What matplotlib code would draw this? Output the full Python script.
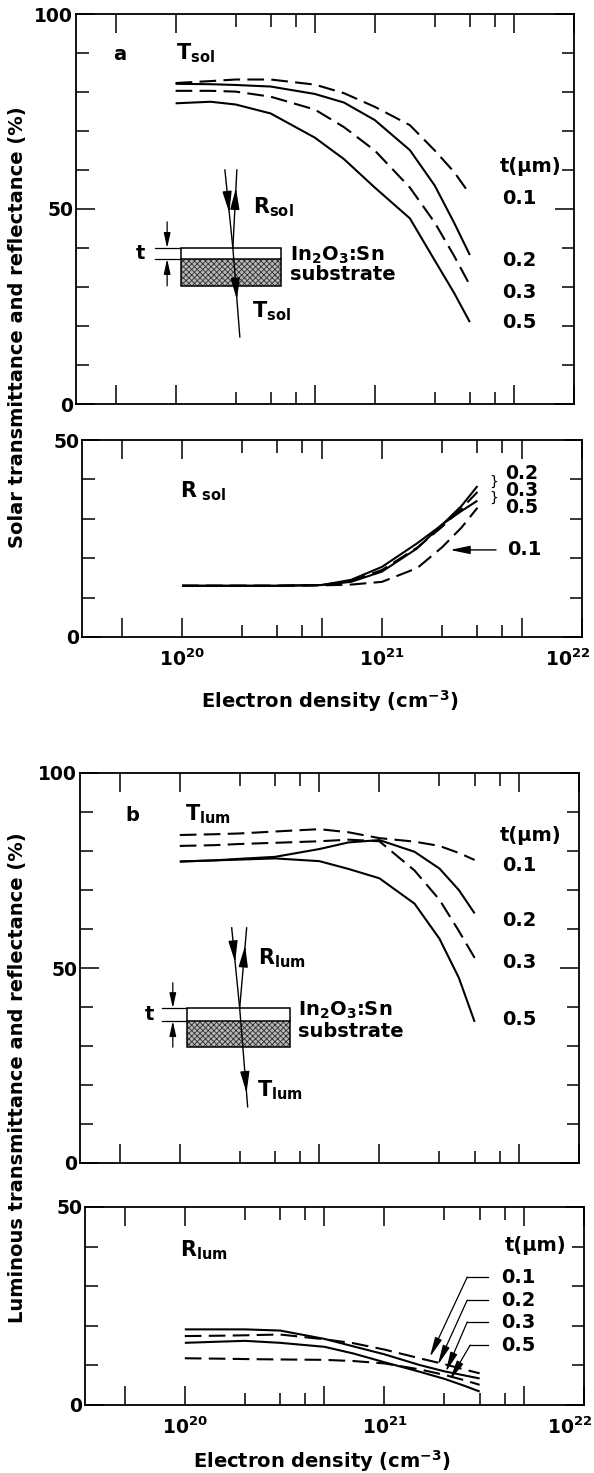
import numpy as np
import matplotlib
matplotlib.use("Agg")
import matplotlib.pyplot as plt
from matplotlib.patches import Rectangle
from matplotlib.ticker import FixedLocator, NullFormatter, FixedFormatter
from matplotlib.transforms import ScaledTranslation

plt.rcParams['font.family'] = ['DejaVu Sans']
plt.rcParams['font.weight'] = 'bold'
plt.rcParams['mathtext.fontset'] = 'dejavusans'
plt.rcParams['hatch.linewidth'] = 0.6

# ---------------- data (electron density in units of 1e20 cm^-3) ----------------
n_T = [1, 1.5, 2, 3, 5, 7, 10, 15, 20, 25, 30]
tsol_01 = [82.3, 82.8, 83.2, 83.2, 81.9, 79.7, 76.2, 71.5, 65.0, 59.5, 53.8]
tsol_02 = [82.1, 82.0, 81.8, 81.4, 79.5, 77.3, 72.8, 65.1, 56.0, 46.5, 38.2]
tsol_03 = [80.3, 80.3, 80.1, 78.8, 75.5, 71.0, 65.0, 55.5, 46.5, 38.0, 30.5]
tsol_05 = [77.1, 77.5, 76.8, 74.5, 68.3, 62.8, 55.5, 47.6, 36.8, 28.5, 21.0]

n_R = [1, 2, 3, 5, 7, 10, 15, 20, 25, 30]
rsol_01 = [13.0, 13.0, 13.0, 13.1, 13.3, 14.0, 17.5, 22.8, 27.8, 32.8]
rsol_02 = [13.0, 13.0, 13.0, 13.2, 14.5, 17.8, 23.8, 28.5, 33.3, 38.3]
rsol_03 = [13.0, 13.0, 13.0, 13.2, 14.2, 17.0, 22.7, 28.0, 32.6, 36.8]
rsol_05 = [13.0, 13.0, 13.0, 13.2, 14.0, 16.6, 22.5, 28.6, 32.0, 34.6]

tlum_01 = [84.1, 84.3, 84.5, 85.0, 85.6, 84.8, 83.3, 82.4, 81.3, 79.5, 77.7]
tlum_02 = [77.3, 77.6, 78.0, 78.5, 80.5, 82.2, 82.8, 79.8, 75.5, 70.0, 64.0]
tlum_03 = [81.3, 81.5, 81.8, 82.1, 82.5, 82.9, 82.5, 75.0, 67.5, 59.5, 52.6]
tlum_05 = [77.3, 77.6, 77.8, 78.1, 77.4, 75.4, 73.0, 66.5, 57.5, 47.5, 36.2]

rlum_01 = [11.8, 11.7, 11.6, 11.5, 11.4, 11.1, 10.5, 9.0, 7.6, 6.3, 5.1]
rlum_02 = [19.1, 19.1, 19.1, 18.8, 16.7, 14.8, 12.8, 10.1, 8.5, 7.5, 6.7]
rlum_03 = [17.4, 17.5, 17.6, 17.8, 16.6, 15.6, 14.0, 11.8, 10.3, 9.0, 8.0]
rlum_05 = [15.7, 16.0, 16.2, 15.7, 14.7, 13.0, 10.8, 8.4, 6.6, 4.9, 3.4]

thickness = ['0.1', '0.2', '0.3', '0.5']
x_major = [5e19, 1e20, 5e20, 1e21, 5e21, 1e22]
x_minor = [2e20, 3e20, 4e20, 2e21, 3e21, 4e21]
x_major_labels = ['', r'$\mathbf{10}^{20}$', '', r'$\mathbf{10}^{21}$', '', r'$\mathbf{10}^{22}$']

# ---------------- figure ----------------
W, H = 594, 1473
fig = plt.figure(figsize=(W / 100, H / 100), dpi=100)
fig.patch.set_facecolor('white')


def rect(l, r, t, b):
    return [l / W, 1 - b / H, (r - l) / W, (b - t) / H]


ax1 = fig.add_axes(rect(76, 574, 14, 404))
ax2 = fig.add_axes(rect(82, 582, 440, 637))
ax3 = fig.add_axes(rect(80, 579, 773, 1163))
ax4 = fig.add_axes(rect(85, 584, 1207, 1405))

DASH = (0, (8, 3.5))
LW = 1.5


def style(ax, ymax, show_x):
    ax.set_xscale('log')
    ax.set_xlim(10 ** 19.5, 1e22)
    ax.set_ylim(0, ymax)
    ax.xaxis.set_major_locator(FixedLocator(x_major))
    ax.xaxis.set_minor_locator(FixedLocator(x_minor))
    ax.xaxis.set_minor_formatter(NullFormatter())
    if show_x:
        ax.xaxis.set_major_formatter(FixedFormatter(x_major_labels))
    else:
        ax.xaxis.set_major_formatter(NullFormatter())
    ymaj = [0, 50, 100] if ymax == 100 else [0, 50]
    ymin = [v for v in range(10, ymax, 10) if v != 50]
    ax.yaxis.set_major_locator(FixedLocator(ymaj))
    ax.yaxis.set_minor_locator(FixedLocator(ymin))
    ax.yaxis.set_major_formatter(FixedFormatter([str(v) for v in ymaj]))
    ax.tick_params(which='both', direction='in', top=True, right=True, width=1.1)
    ax.tick_params(which='major', length=13.5)
    ax.tick_params(which='minor', length=9)
    ax.tick_params(axis='y', labelsize=13.5, pad=2)
    ax.tick_params(axis='x', labelsize=13.5, pad=8)
    for s in ax.spines.values():
        s.set_linewidth(1.3)


def curves(ax, n, series):
    x = np.array(n) * 1e20
    for vals, ls in zip(series, [DASH, '-', DASH, '-']):
        ax.plot(x, vals, color='k', lw=LW, ls=ls, solid_joinstyle='round',
                solid_capstyle='butt', dash_capstyle='butt')


style(ax1, 100, False)
style(ax2, 50, True)
style(ax3, 100, False)
style(ax4, 50, True)

curves(ax1, n_T, [tsol_01, tsol_02, tsol_03, tsol_05])
curves(ax2, n_R, [rsol_01, rsol_02, rsol_03, rsol_05])
curves(ax3, n_T, [tlum_01, tlum_02, tlum_03, tlum_05])
curves(ax4, n_T, [rlum_01, rlum_02, rlum_03, rlum_05])

# keep the 10^22 label inside the picture, as in the reference
fig.canvas.draw()
for ax in (ax2, ax4):
    labs = ax.get_xticklabels()
    last = labs[-1]
    last.set_horizontalalignment('right')
    last.set_transform(last.get_transform() + ScaledTranslation(8 / 100, 0, fig.dpi_scale_trans))

FS = 14
FB = 15
AF = 'axes fraction'


def arrow(ax, tip, tail, hl=0.9, hw=0.22, lw=1.0):
    ax.annotate('', xy=tip, xytext=tail, xycoords=AF, textcoords=AF,
                arrowprops=dict(arrowstyle='-|>,head_length=%g,head_width=%g' % (hl, hw),
                                color='k', lw=lw, shrinkA=0, shrinkB=0,
                                mutation_scale=10))


def head_on(ax, p0, p1, t):
    tip = (p0[0] + t * (p1[0] - p0[0]), p0[1] + t * (p1[1] - p0[1]))
    back = (p0[0] + (t - 0.06) * (p1[0] - p0[0]), p0[1] + (t - 0.06) * (p1[1] - p0[1]))
    arrow(ax, tip, back, hl=1.3, hw=0.28, lw=1.0)


def inset(ax, g, rlab, tlab):
    T = ax.transAxes
    ax.add_patch(Rectangle((g['x0'], g['yb']), g['x1'] - g['x0'], g['ym'] - g['yb'],
                           transform=T, facecolor='#b8b8b8', edgecolor='#2e2e2e',
                           hatch='xxxxxx', lw=0))
    ax.add_patch(Rectangle((g['x0'], g['yb']), g['x1'] - g['x0'], g['yt'] - g['yb'],
                           transform=T, facecolor='none', edgecolor='k', lw=1.1))
    ax.plot([g['x0'], g['x1']], [g['ym'], g['ym']], transform=T, color='k', lw=1.1)
    ax.plot([g['xl'], g['x0']], [g['yt'], g['yt']], transform=T, color='k', lw=0.9)
    ax.plot([g['xl'], g['x0']], [g['ym'], g['ym']], transform=T, color='k', lw=0.9)
    arrow(ax, (g['xa'], g['yt']), (g['xa'], g['ya']), hl=0.9, hw=0.2, lw=0.9)
    arrow(ax, (g['xa'], g['ym']), (g['xa'], g['yb']), hl=0.9, hw=0.2, lw=0.9)
    ax.text(g['xt'], (g['yt'] + g['ym']) / 2, 't', transform=T, fontsize=FS,
            ha='center', va='center')
    pin = (g['xi'], g['ytop'])
    hit = (g['xh'], g['yt'])
    pr = (g['xr'], g['ytop'])
    pt = (g['xtr'], g['ybot'])
    for a, b in [(pin, hit), (hit, pr), (hit, pt)]:
        ax.plot([a[0], b[0]], [a[1], b[1]], transform=T, color='k', lw=1.0)
    head_on(ax, pin, hit, g['ti'])
    head_on(ax, hit, pr, g['tr'])
    head_on(ax, hit, pt, g['tt'])
    ax.text(g['rx'], g['ry'], rlab, transform=T, fontsize=FB, ha='left', va='center')
    ax.text(g['lx'], g['ly1'], r'In$_2$O$_3$:Sn', transform=T, fontsize=FS,
            ha='left', va='center')
    ax.text(g['lx'], g['ly2'], 'substrate', transform=T, fontsize=FS,
            ha='left', va='center')
    ax.text(g['tx'], g['ty'], tlab, transform=T, fontsize=FB, ha='left', va='center')


g1 = dict(x0=0.211, x1=0.412, yt=0.400, ym=0.372, yb=0.303, xl=0.159, xa=0.183,
          ya=0.467, xt=0.130, xi=0.299, xh=0.315, xr=0.323, ytop=0.600, xtr=0.329,
          ybot=0.172, ti=0.55, tr=0.77, tt=0.58, rx=0.355, ry=0.505, lx=0.430,
          ly1=0.380, ly2=0.331, tx=0.353, ty=0.238)
g3 = dict(x0=0.214, x1=0.420, yt=0.397, ym=0.364, yb=0.297, xl=0.165, xa=0.186,
          ya=0.462, xt=0.140, xi=0.304, xh=0.320, xr=0.334, ytop=0.603, xtr=0.336,
          ybot=0.144, ti=0.43, tr=0.78, tt=0.86, rx=0.356, ry=0.526, lx=0.436,
          ly1=0.392, ly2=0.336, tx=0.355, ty=0.187)

inset(ax1, g1, r'R$_{\rm sol}$', r'T$_{\rm sol}$')
inset(ax3, g3, r'R$_{\rm lum}$', r'T$_{\rm lum}$')

# panel a labels
ax1.text(0.088, 0.897, 'a', transform=ax1.transAxes, fontsize=FS, ha='center', va='center')
ax1.text(0.200, 0.900, r'T$_{\rm sol}$', transform=ax1.transAxes, fontsize=FB, ha='left', va='center')
ax1.text(0.851, 0.608, 't(μm)', transform=ax1.transAxes, fontsize=FS, ha='left', va='center')
for lab, fy in zip(thickness, [0.528, 0.369, 0.287, 0.208]):
    ax1.text(0.856, fy, lab, transform=ax1.transAxes, fontsize=FS, ha='left', va='center')

# panel R_sol labels
ax2.text(0.196, 0.74, r'R$_{\rm \ sol}$', transform=ax2.transAxes, fontsize=FB, ha='left', va='center')
ax2.text(0.846, 0.744, '\n'.join(['0.2', '0.3', '0.5']), transform=ax2.transAxes,
         fontsize=13.5, ha='left', va='center', linespacing=0.84)
for fy in [0.786, 0.706]:
    ax2.text(0.824, fy, '}', transform=ax2.transAxes, fontsize=10, fontweight='normal',
             ha='center', va='center')
ax2.text(0.850, 0.442, '0.1', transform=ax2.transAxes, fontsize=FS, ha='left', va='center')
arrow(ax2, (0.736, 0.442), (0.828, 0.442), hl=1.2, hw=0.25, lw=1.0)

# panel b labels
ax3.text(0.104, 0.890, 'b', transform=ax3.transAxes, fontsize=FS, ha='center', va='center')
ax3.text(0.210, 0.895, r'T$_{\rm lum}$', transform=ax3.transAxes, fontsize=FB, ha='left', va='center')
ax3.text(0.842, 0.841, 't(μm)', transform=ax3.transAxes, fontsize=FS, ha='left', va='center')
for lab, fy in zip(thickness, [0.764, 0.621, 0.513, 0.367]):
    ax3.text(0.846, fy, lab, transform=ax3.transAxes, fontsize=FS, ha='left', va='center')

# panel R_lum labels
ax4.text(0.190, 0.78, r'R$_{\rm lum}$', transform=ax4.transAxes, fontsize=FB, ha='left', va='center')
ax4.text(0.842, 0.808, 't(μm)', transform=ax4.transAxes, fontsize=FS, ha='left', va='center')
lab_y = [0.646, 0.530, 0.419, 0.303]
corners = [(0.766, 0.646), (0.766, 0.530), (0.766, 0.419), (0.772, 0.303)]
tips = [(0.691, 0.242), (0.707, 0.202), (0.723, 0.167), (0.731, 0.126)]
for lab, fy, c, tp in zip(thickness, lab_y, corners, tips):
    ax4.text(0.834, fy, lab, transform=ax4.transAxes, fontsize=FS, ha='left', va='center')
    ax4.plot([0.808, c[0]], [fy, c[1]], transform=ax4.transAxes, color='k', lw=0.9)
    arrow(ax4, tp, c, hl=1.2, hw=0.22, lw=0.9)

# axis titles
fig.text(18 / W, 1 - 327 / H, 'Solar transmittance and reflectance (%)', rotation=90,
         fontsize=14, ha='center', va='center')
fig.text(18 / W, 1 - 1078 / H, 'Luminous transmittance and reflectance (%)', rotation=90,
         fontsize=14, ha='center', va='center')
fig.text(330 / W, 1 - 701 / H, r'Electron density (cm$^{-3}$)', fontsize=14,
         ha='center', va='center')
fig.text(322 / W, 1 - 1461 / H, r'Electron density (cm$^{-3}$)', fontsize=14,
         ha='center', va='center')

fig.savefig('out.png', dpi=100, facecolor='white')
